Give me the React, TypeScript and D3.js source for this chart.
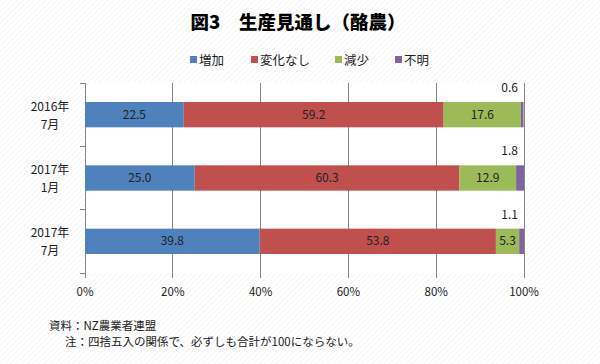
import React from "react";
import * as d3 from "d3";

const categories = ["2016年\n7月", "2017年\n1月", "2017年\n7月"];
const seriesNames = ["増加", "変化なし", "減少", "不明"];
const increase = [22.5, 25.0, 39.8];
const noChange = [59.2, 60.3, 53.8];
const decrease = [17.6, 12.9, 5.3];
const unknown = [0.6, 1.8, 1.1];
const xTicks = [0, 20, 40, 60, 80, 100];
const colors = ["#4F81BD", "#C0504D", "#9BBB59", "#8064A2"];

const W = 600, H = 364;
const FONT = "'Noto Sans CJK JP', 'Noto Sans', sans-serif";

export default function App() {
  if (typeof document !== "undefined") document.body.style.margin = "0";
  const series = [increase, noChange, decrease, unknown];
  const x = d3.scaleLinear().domain([0, 100]).range([85, 524]);
  const y = d3.scaleBand<string>().domain(categories).range([83, 273]).paddingInner(0.6).paddingOuter(0.3);
  const yb = d3.scaleBand<string>().domain(categories).range([83, 273]);
  const rows = categories.map((c, i) => {
    let acc = 0;
    return series.map((s, k) => {
      const v = s[i];
      const seg = { c, k, v, x0: acc, x1: acc + v };
      acc += v;
      return seg;
    });
  });
  const legendX = [190, 251, 335, 395];
  return (
    <svg width={W} height={H} style={{ display: "block", fontFamily: FONT }}>
      <defs>
        <pattern id="hatch" width="4" height="4" patternUnits="userSpaceOnUse" patternTransform="rotate(45)">
          <rect width="4" height="4" fill="#ffffff" />
          <line x1="0" y1="0" x2="0" y2="4" stroke="#ececec" strokeWidth="1" />
        </pattern>
      </defs>
      <rect width={W} height={H} fill="url(#hatch)" />
      <rect x={x(0)} y={83} width={x(100) - x(0)} height={190} fill="#ffffff" />
      <text x={298} y={29} textAnchor="middle" fontSize={18.5} fontWeight={900} fill="#000">図3　生産見通し（酪農）</text>
      {seriesNames.map((n, k) => (
        <g key={n}>
          <rect x={legendX[k]} y={56} width={7} height={7} fill={colors[k]} />
          <text x={legendX[k] + 9} y={64.5} fontSize={12.5} fill="#222">{n}</text>
        </g>
      ))}
      {xTicks.map(t => (
        <g key={t}>
          <line x1={x(t)} x2={x(t)} y1={83} y2={278} stroke="#868686" strokeWidth={1} shapeRendering="crispEdges" />
          <text x={x(t)} y={296} textAnchor="middle" fontSize={11.5} fill="#222">{t}%</text>
        </g>
      ))}
      {[83, ...categories.map(c => (yb(c) as number) + yb.bandwidth())].map((v, i) => (
        <line key={i} x1={80} x2={85} y1={v} y2={v} stroke="#868686" shapeRendering="crispEdges" />
      ))}
      {categories.map(c => {
        const [a, b] = c.split("\n");
        const cy = (y(c) as number) + y.bandwidth() / 2;
        return (
          <text key={c} x={50} textAnchor="middle" fontSize={12} fill="#222">
            <tspan x={50} y={cy - 4}>{a}</tspan>
            <tspan x={50} y={cy + 14}>{b}</tspan>
          </text>
        );
      })}
      {rows.map((segs, i) => segs.map(s => (
        <rect key={i + "-" + s.k} x={x(s.x0)} y={y(s.c)} width={x(s.x1) - x(s.x0)} height={y.bandwidth()} fill={colors[s.k]} />
      )))}
      {rows.map((segs, i) => segs.map(s => {
        const cy = (y(s.c) as number) + y.bandwidth() / 2;
        if (s.k < 3) {
          return (
            <text key={"l" + i + s.k} x={(x(s.x0) + x(s.x1)) / 2} y={cy + 4} textAnchor="middle" fontSize={12} fill="#222">{s.v.toFixed(1)}</text>
          );
        }
        return (
          <text key={"l" + i + s.k} x={518} y={(y(s.c) as number) - 10} textAnchor="end" fontSize={12} fill="#222">{s.v.toFixed(1)}</text>
        );
      }))}
      <text x={49} y={330} fontSize={11.5} fill="#222">資料：NZ農業者連盟</text>
      <text x={65} y={346} fontSize={11.5} fill="#222">注：四捨五入の関係で、必ずしも合計が100にならない。</text>
    </svg>
  );
}
